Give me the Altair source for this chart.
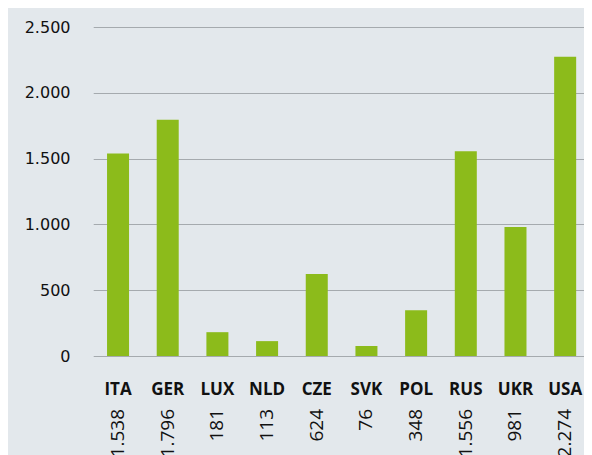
import altair as alt
import pandas as pd

countries = ["ITA", "GER", "LUX", "NLD", "CZE", "SVK", "POL", "RUS", "UKR", "USA"]
values = [1538, 1796, 181, 113, 624, 76, 348, 1556, 981, 2274]
value_labels = ["1.538", "1.796", "181", "113", "624", "76", "348", "1.556", "981", "2.274"]

df = pd.DataFrame({"country": countries, "value": values, "label": value_labels})

BG = "#e3e8ec"
GREEN = "#8cbb1b"
NUMFONT = "DejaVu Sans"
FONT = "Open Sans"

x = alt.X("country:N", sort=countries, title=None,
          scale=alt.Scale(paddingInner=0.557, paddingOuter=0.2785, range=[10.2, 507]),
          axis=alt.Axis(labelAngle=0, labelFont=FONT, labelFontSize=17, labelFontWeight="bold",
                        labelColor="#111111", labelPadding=25, ticks=False, domain=False, grid=False))

bars = alt.Chart(df).mark_bar(color=GREEN).encode(
    x=x,
    y=alt.Y("value:Q", title=None,
            scale=alt.Scale(domain=[0, 2500], nice=False),
            axis=alt.Axis(values=[0, 500, 1000, 1500, 2000, 2500],
                          labelExpr="replace(format(datum.value, ','), ',', '.')",
                          labelFont=NUMFONT, labelFontSize=16, labelColor="#111111",
                          labelPadding=13, ticks=False, domain=False,
                          grid=True, gridColor="#a5aaae", gridWidth=1.2)),
)

texts = alt.Chart(df).mark_text(angle=270, align="right", baseline="middle",
                                font=FONT, fontSize=19, color="#111111").encode(
    x=alt.X("country:N", sort=countries),
    y=alt.value(382),
    text="label:N",
)

chart = alt.layer(bars, texts).properties(
    width=501, height=329,
    autosize=alt.AutoSizeParams(type="none"),
    padding={"left": 75, "top": 19, "right": 0, "bottom": 107},
    background=BG,
).configure_view(stroke=None, fill=BG)

chart.save("out.html", embed_options={"renderer": "svg", "actions": False})
